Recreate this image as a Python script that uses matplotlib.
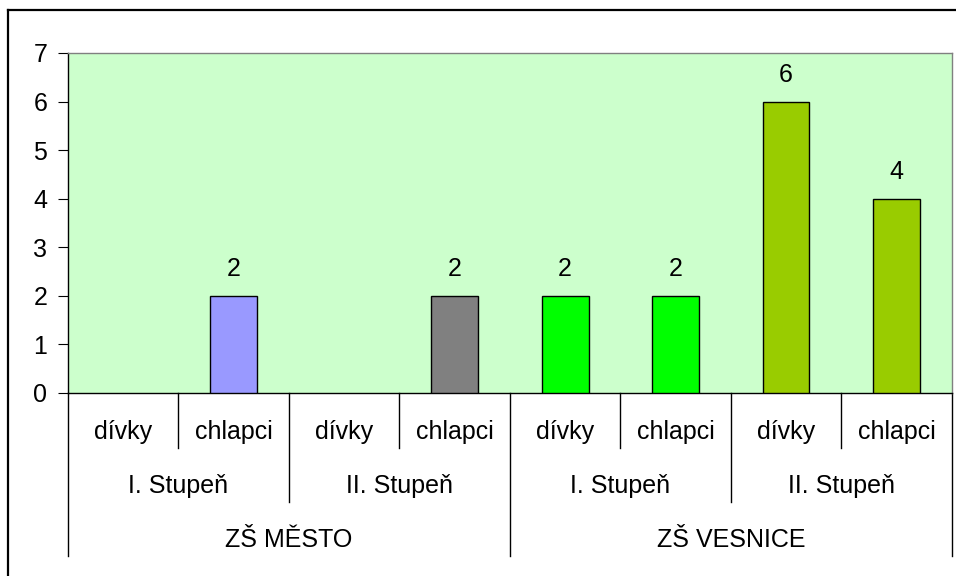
import matplotlib
matplotlib.use('Agg')
import matplotlib.pyplot as plt
from matplotlib.lines import Line2D

plt.rcParams['font.family'] = ['Liberation Sans', 'DejaVu Sans']

# data
pohlavi = ['dívky', 'chlapci', 'dívky', 'chlapci', 'dívky', 'chlapci', 'dívky', 'chlapci']
stupne = ['I. Stupeň', 'II. Stupeň', 'I. Stupeň', 'II. Stupeň']
skoly = ['ZŠ MĚSTO', 'ZŠ VESNICE']
hodnoty = [0, 2, 0, 2, 2, 2, 6, 4]
barvy = ['#9999FF', '#9999FF', '#808080', '#808080', '#00FF00', '#00FF00', '#99CC00', '#99CC00']

W, H = 956, 576
FS = 18
fig = plt.figure(figsize=(W / 100, H / 100), dpi=100)
ax = fig.add_axes([68 / W, 1 - 393 / H, (951.7 - 68) / W, 340 / H])
ax.set_facecolor('#CCFFCC')

x = list(range(len(hodnoty)))
bars = ax.bar(x, hodnoty, width=0.425, color=barvy, edgecolor='black', linewidth=1.0, zorder=3)
for b, v in zip(bars, hodnoty):
    if v == 0:
        b.set_linewidth(0)
for xi, v in zip(x, hodnoty):
    if v > 0:
        ax.text(xi, v + 0.3, str(v), ha='center', va='bottom', fontsize=FS)

ax.set_xlim(-0.5, len(hodnoty) - 0.5)
ax.set_ylim(0, 7)
ax.set_yticks(range(8))
ax.tick_params(axis='y', labelsize=FS, length=7, width=0.8, pad=8)
ax.set_xticks([])
for s in ['top', 'right']:
    ax.spines[s].set_color('#808080')
    ax.spines[s].set_linewidth(1.0)
ax.spines['left'].set_linewidth(1.0)
ax.spines['bottom'].set_linewidth(1.0)

tr = ax.get_xaxis_transform()
y_row1, y_row2, y_row3 = -0.1618, -0.3206, -0.4794

# category separators
for b in range(len(hodnoty) + 1):
    xb = b - 0.5
    if b % 4 == 0:
        yb = y_row3
    elif b % 2 == 0:
        yb = y_row2
    else:
        yb = y_row1
    ax.plot([xb, xb], [0, yb], transform=tr, color='black', lw=1.0, clip_on=False)

# labels
for i, t in enumerate(pohlavi):
    ax.text(i, -0.1147, t, transform=tr, ha='center', va='center', fontsize=FS)
for i, t in enumerate(stupne):
    ax.text(2 * i + 0.5, -0.2735, t, transform=tr, ha='center', va='center', fontsize=FS)
for i, t in enumerate(skoly):
    ax.text(4 * i + 1.5, -0.4324, t, transform=tr, ha='center', va='center', fontsize=FS)

# outer frame (right and bottom cut off)
fig.add_artist(Line2D([8 / W, 8 / W], [0, 1 - 10 / H], color='black', lw=1.6))
fig.add_artist(Line2D([8 / W, 1], [1 - 10 / H, 1 - 10 / H], color='black', lw=1.6))

fig.savefig('out.png', dpi=100, facecolor='white')
